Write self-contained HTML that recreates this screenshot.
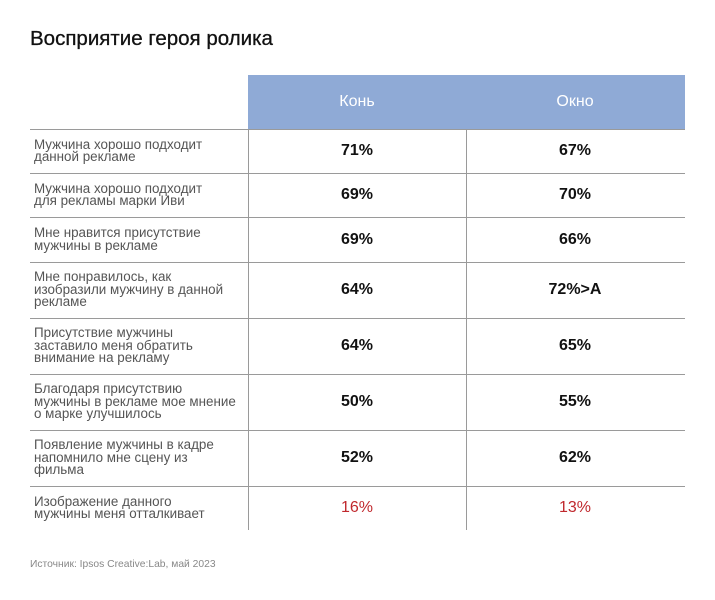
<!DOCTYPE html>
<html><head><meta charset="utf-8"><style>
body{margin:0;width:715px;height:600px;background:#fff;font-family:"Liberation Sans",sans-serif;position:relative;overflow:hidden}
.a{position:absolute}
.title{left:30px;top:27px;font-size:20.5px;color:#111;font-weight:normal;-webkit-text-stroke:0.3px #111}
.hdr{left:248px;top:75px;width:437px;height:54px;background:#8faad6;z-index:2}
.hl{top:75px;height:54px;line-height:54px;width:218px;text-align:center;color:#fff;font-size:16px;z-index:3}
.hline{left:30px;width:655px;height:1px;background:#9a9a9a}
.vline{top:75px;height:455px;width:1px;background:#9a9a9a}
.lab{left:34px;width:214px;font-size:13.4px;line-height:12.5px;color:#555;display:flex;align-items:center}
.val{width:218px;text-align:center;font-size:16px;font-weight:bold;color:#111;display:flex;align-items:center;justify-content:center}
.red{color:#c0282d;font-weight:normal}
.src{left:30px;top:559px;font-size:10.3px;color:#888}
</style></head><body>
<div class="a title">Восприятие героя ролика</div>
<div class="a hdr"></div>
<div class="a hl" style="left:248px">Конь</div>
<div class="a hl" style="left:466px">Окно</div>
<div id="tbl"></div>
<div class="a vline" style="left:248px"></div>
<div class="a vline" style="left:466px"></div>
<div class="a src">Источник: Ipsos Creative:Lab, май 2023</div>
<script>
const labels=["Мужчина хорошо подходит<br>данной рекламе","Мужчина хорошо подходит<br>для рекламы марки Иви","Мне нравится присутствие<br>мужчины в рекламе","Мне понравилось, как<br>изобразили мужчину в данной<br>рекламе","Присутствие мужчины<br>заставило меня обратить<br>внимание на рекламу","Благодаря присутствию<br>мужчины в рекламе мое мнение<br>о марке улучшилось","Появление мужчины в кадре<br>напомнило мне сцену из<br>фильма","Изображение данного<br>мужчины меня отталкивает"];
const kon=["71%","69%","69%","64%","64%","50%","52%","16%"];
const okno=["67%","70%","66%","72%>A","65%","55%","62%","13%"];
const rowTops=[129,173,217,262,318,374,430,486,530];
const t=document.getElementById('tbl');
for(let i=0;i<labels.length;i++){
 const y=rowTops[i],h=rowTops[i+1]-y;
 const ln=document.createElement('div');ln.className='a hline';ln.style.top=y+'px';
 
 
 t.appendChild(ln);
 const l=document.createElement('div');l.className='a lab';l.style.top=y+'px';l.style.height=h+'px';
 l.innerHTML='<div>'+labels[i]+'</div>';
 
 
 t.appendChild(l);
 const red=i===labels.length-1;
 [[kon,248],[okno,466]].forEach(([arr,x])=>{
  const v=document.createElement('div');v.className='a val'+(red?' red':'');
  v.style.left=x+'px';v.style.top=y+'px';v.style.height=h+'px';v.textContent=arr[i];
  
  
  t.appendChild(v);
 });
}
</script>
</body></html>
